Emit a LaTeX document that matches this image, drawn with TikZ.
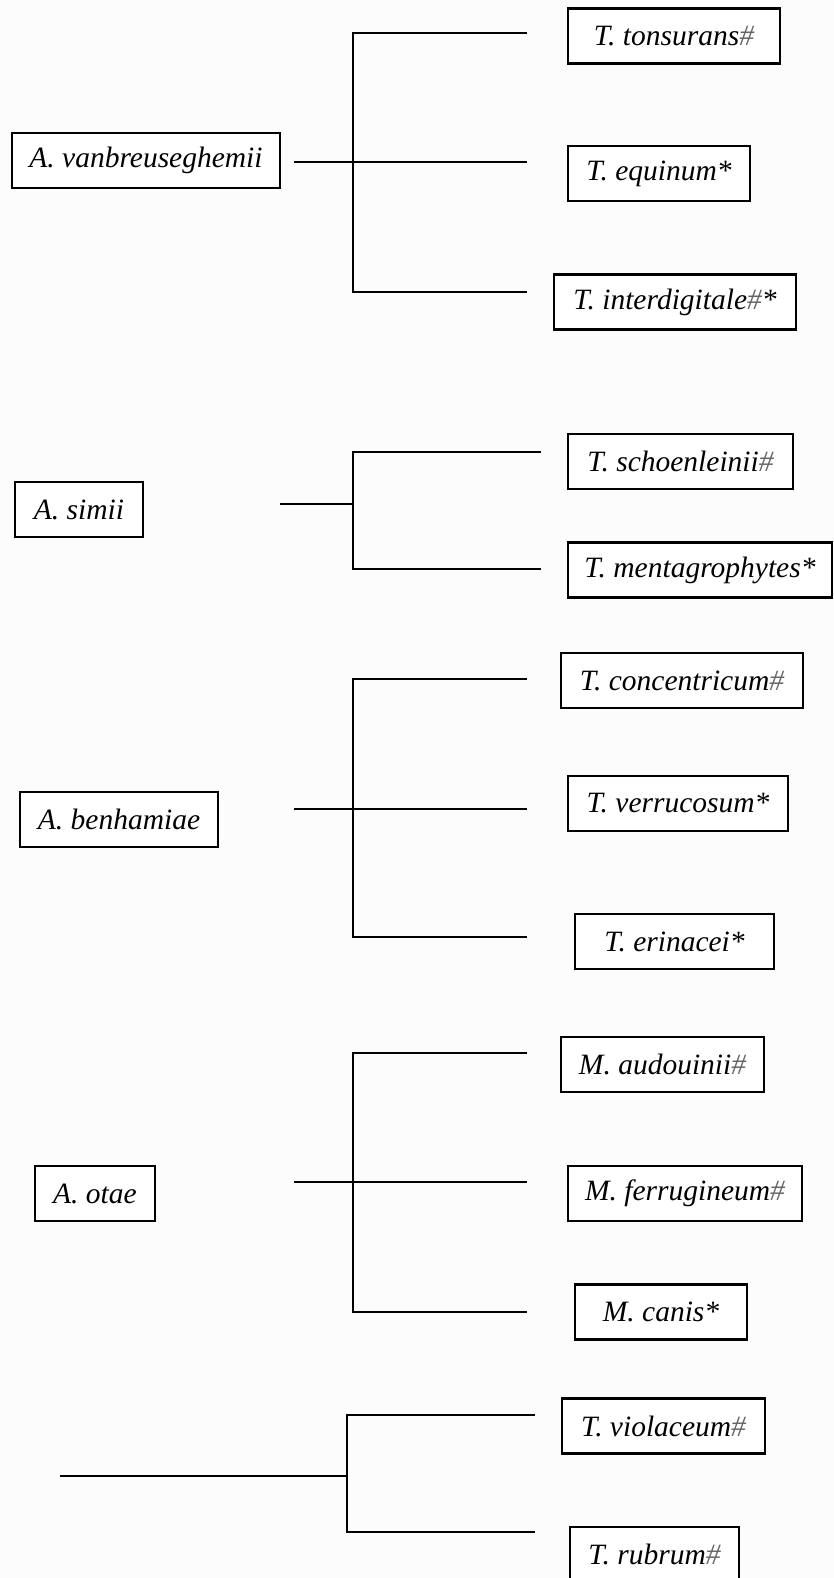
\documentclass[tikz,border=0pt]{standalone}
\usepackage{fontspec}
\setmainfont{Liberation Serif}
\newcommand{\hs}{{\color{black!60}\#}}
\begin{document}
\begin{tikzpicture}[x=1pt,y=-1pt,
  taxon/.style={draw=black,line width=2.2pt,fill=white,inner sep=0pt,
    minimum height=55pt,font=\fontsize{29.5}{34}\selectfont\itshape},
  branch/.style={line width=2.5pt}]
\useasboundingbox (0,0) rectangle (834,1578);
\fill[white!99!black] (0,0) rectangle (834,1578);
% boxes
\node[taxon,minimum width=268pt] (vanb) at (146,160.5) {A. vanbreuseghemii};
\node[taxon,minimum width=212pt] (tons) at (674,36) {T. tonsurans\hs};
\node[taxon,minimum width=182pt] (equi) at (659,173.5) {T. equinum*};
\node[taxon,minimum width=242pt] (inte) at (675,302) {T. interdigitale\hs*};
\node[taxon,minimum width=128pt] (simi) at (79,509.5) {A. simii};
\node[taxon,minimum width=225pt] (scho) at (680.5,461.5) {T. schoenleinii\hs};
\node[taxon,minimum width=264pt] (ment) at (700,570) {T. mentagrophytes*};
\node[taxon,minimum width=198pt] (benh) at (119,819.5) {A. benhamiae};
\node[taxon,minimum width=242pt] (conc) at (682,680.5) {T. concentricum\hs};
\node[taxon,minimum width=220pt] (verr) at (678,803.5) {T. verrucosum*};
\node[taxon,minimum width=199pt] (erin) at (674.5,941.5) {T. erinacei*};
\node[taxon,minimum width=120pt] (otae) at (95,1193.5) {A. otae};
\node[taxon,minimum width=203pt] (audo) at (662.5,1064.5) {M. audouinii\hs};
\node[taxon,minimum width=234pt] (ferr) at (685,1193.5) {M. ferrugineum\hs};
\node[taxon,minimum width=172pt] (cani) at (661,1312) {M. canis*};
\node[taxon,minimum width=203pt] (viol) at (663.5,1426) {T. violaceum\hs};
\node[taxon,minimum width=169pt] (rubr) at (654.5,1554.5) {T. rubrum\hs};
% group 1
\coordinate (g1s) at (294,162); \coordinate (g1m) at (527,162);
\coordinate (g1t) at (353,33);  \coordinate (g1te) at (527,33);
\coordinate (g1b) at (353,292); \coordinate (g1be) at (527,292);
\draw[branch] (g1te) -- (g1t) -- (g1b) -- (g1be);
\draw[branch] (g1s) -- (g1m);
% group 2
\coordinate (g2s) at (280,504); \coordinate (g2j) at (353,504);
\coordinate (g2t) at (353,452); \coordinate (g2te) at (541,452);
\coordinate (g2b) at (353,569); \coordinate (g2be) at (541,569);
\draw[branch] (g2te) -- (g2t) -- (g2b) -- (g2be);
\draw[branch] (g2s) -- (g2j);
% group 3
\coordinate (g3s) at (294,809); \coordinate (g3m) at (527,809);
\coordinate (g3t) at (353,679); \coordinate (g3te) at (527,679);
\coordinate (g3b) at (353,937); \coordinate (g3be) at (527,937);
\draw[branch] (g3te) -- (g3t) -- (g3b) -- (g3be);
\draw[branch] (g3s) -- (g3m);
% group 4
\coordinate (g4s) at (294,1182); \coordinate (g4m) at (527,1182);
\coordinate (g4t) at (353,1053); \coordinate (g4te) at (527,1053);
\coordinate (g4b) at (353,1312); \coordinate (g4be) at (527,1312);
\draw[branch] (g4te) -- (g4t) -- (g4b) -- (g4be);
\draw[branch] (g4s) -- (g4m);
% group 5
\coordinate (g5s) at (60,1476); \coordinate (g5j) at (347,1476);
\coordinate (g5t) at (347,1415); \coordinate (g5te) at (535,1415);
\coordinate (g5b) at (347,1532); \coordinate (g5be) at (535,1532);
\draw[branch] (g5te) -- (g5t) -- (g5b) -- (g5be);
\draw[branch] (g5s) -- (g5j);
\end{tikzpicture}
\end{document}
